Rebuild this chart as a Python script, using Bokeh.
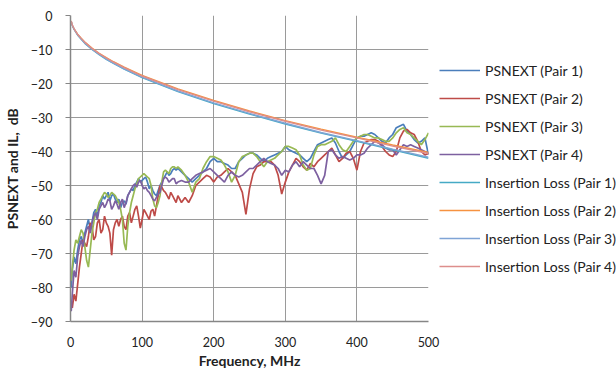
from bokeh.plotting import figure
from bokeh.models import Range1d, FixedTicker, Legend, LegendItem
from bokeh.embed import file_html
from bokeh.resources import INLINE

# ---------------- data ----------------
# PSNEXT sweep: 1 MHz, then every 2.5 MHz up to 150 MHz, then every 5 MHz
freq = [1] + [2.5 * i for i in range(1, 61)] + list(range(155, 501, 5))

psnext_pair1 = [
    -80,
    -75, -71, -73, -69, -66, -65, -67, -64, -62, -60,
    -63, -61, -58, -57, -59, -56, -55, -53, -54, -53,
    -52, -54.5, -53, -52.5, -54, -55, -54, -56.5, -55, -54.5,
    -55.5, -53, -52, -51, -51.5, -50, -49, -48, -49, -48.5,
    -48, -47.5, -49, -51, -50, -51.5, -52.5, -53, -51.5, -50,
    -49, -48, -47, -46, -47, -46.5, -45.5, -45, -45.5, -45,
    -46, -47, -48, -49, -48, -47, -46, -45, -43,
    -42, -43, -43, -43.5, -44, -45, -45, -43, -42, -41,
    -40.5, -40.5, -41, -42, -43, -42, -41.5, -41, -40.5, -40,
    -38.5, -39.5, -40, -40.5, -41, -42, -43, -42, -40, -38,
    -37.5, -37, -36.5, -36, -37.5, -40, -42, -41, -40, -38,
    -36, -35.5, -35.5, -35, -34.5, -35, -36, -37, -37.5, -36,
    -35, -33, -32.5, -32, -34, -35, -36.5, -37.5, -37, -36,
    -41,
]
psnext_pair2 = [
    -84,
    -86, -82, -84, -79, -74, -70, -66, -67, -68, -65,
    -61, -62, -66, -65, -61, -60, -64, -63, -59, -61,
    -62, -64, -70.5, -63, -61, -60, -62, -60, -59, -62,
    -63, -59, -58, -61, -59, -57, -56, -59, -62.5, -60,
    -57, -58, -59, -60, -57.5, -57, -59, -56, -53, -50,
    -50.5, -51.5, -52, -53, -54, -52, -53, -54, -55, -53,
    -55, -53.5, -55, -53, -50, -49, -48, -47, -47.5,
    -49, -47.5, -47, -46, -45, -46, -47, -49.5, -52, -58.5,
    -51, -46.5, -44.5, -44, -43, -43, -43, -44, -47, -52.5,
    -49, -46, -44, -42, -43, -44.5, -45.5, -43.5, -44.5, -43,
    -42, -41, -40, -39, -41, -43, -42, -40.5, -40, -42,
    -45.5, -40, -37.5, -37, -36.5, -36.5, -37, -38.5, -40, -41,
    -41.5, -40, -36, -34, -33.5, -34.5, -35, -37, -40, -41,
    -40.5,
]
psnext_pair3 = [
    -78,
    -74, -69, -66, -67, -65, -63, -64, -68, -72, -74,
    -69, -64, -61, -58, -57, -55, -54, -53, -52, -52.5,
    -53.5, -53, -52, -52.5, -53, -54, -55, -57, -60, -67,
    -69, -62, -58, -55, -53, -51, -49.5, -48, -47.5, -47,
    -46.5, -47, -47.5, -48, -50, -54, -56, -56.5, -55, -53,
    -49, -46, -45.5, -46, -46.5, -45, -44.5, -44.5, -45, -44.5,
    -45.5, -47, -49, -52, -49, -48, -45, -43, -41.5,
    -41.5, -42, -42.5, -44, -46, -49, -47, -43, -41.5, -41,
    -40.5, -40.5, -41.5, -43, -44.5, -43, -42.5, -42, -41, -40,
    -38.5, -38.5, -39, -39.5, -41, -44, -45.5, -45, -41, -38.5,
    -38, -38, -37.5, -37, -36, -38, -39.5, -40, -38.5, -37,
    -36, -35.5, -35, -35, -35.5, -36, -36, -36.5, -37, -37,
    -36, -34.5, -33.5, -33, -34.5, -35, -36, -37, -38, -36.5,
    -34.5,
]
psnext_pair4 = [
    -87,
    -82, -75, -77, -71, -68, -66, -68, -65, -63, -62,
    -64, -61, -59, -58, -60, -57, -56, -55, -56.5, -55.5,
    -54, -54.5, -57, -56, -54.5, -55.5, -57, -55, -54, -56.5,
    -55, -53, -52, -51, -50, -49.5, -50.5, -49, -48.5, -50,
    -51, -50.5, -51.5, -52, -53, -54, -54.5, -53.5, -52.5, -52,
    -50, -48, -47.5, -48, -49, -48.5, -48, -48, -49.5, -49,
    -48.5, -49, -49, -48, -47, -46.5, -46, -45.5, -45,
    -46, -47, -48, -49, -47, -46, -47, -47.5, -47, -46,
    -45, -45, -44, -43, -42, -43, -43.5, -44, -45, -47,
    -45.5, -46, -44, -43, -44.5, -43, -44, -45, -45, -47,
    -49.5, -47, -40, -39.5, -41, -42, -41.5, -42, -42.5, -42,
    -41, -41, -40.5, -39, -38, -37, -37.5, -38, -39, -39.5,
    -39.5, -41, -39.5, -38, -38.5, -38, -38.5, -39, -39.5, -40,
    -40.5,
]

il_freq = [1, 2, 3, 5, 10, 15, 20, 30, 40, 50, 60, 75, 100, 150, 200, 250, 300, 350, 400, 450, 500]
il_pair1 = [-1.8, -2.6, -3.2, -4.1, -5.8, -7.0, -8.2, -10.0, -11.5, -12.9, -14.1, -15.8, -18.3, -22.4, -25.9, -29.0, -31.9, -34.6, -37.0, -39.5, -42.0]
il_pair2 = [-1.6, -2.4, -3.0, -3.9, -5.5, -6.7, -7.8, -9.6, -11.1, -12.4, -13.6, -15.2, -17.6, -21.6, -25.0, -28.1, -30.9, -33.4, -35.8, -38.1, -40.3]
il_pair3 = [-1.7, -2.5, -3.1, -4.0, -5.7, -6.9, -8.1, -9.9, -11.4, -12.8, -14.0, -15.7, -18.1, -22.2, -25.7, -28.8, -31.7, -34.4, -36.8, -39.3, -41.7]
il_pair4 = [-1.7, -2.5, -3.0, -3.9, -5.6, -6.8, -7.9, -9.7, -11.2, -12.5, -13.7, -15.3, -17.8, -21.8, -25.2, -28.3, -31.1, -33.7, -36.0, -38.4, -40.6]

x_ticks = [0, 100, 200, 300, 400, 500]
y_ticks = [-90, -80, -70, -60, -50, -40, -30, -20, -10, 0]

series = [
    ("PSNEXT (Pair 1)", freq, psnext_pair1, "#4A7EBB", 1.7),
    ("PSNEXT (Pair 2)", freq, psnext_pair2, "#BE4B48", 1.7),
    ("PSNEXT (Pair 3)", freq, psnext_pair3, "#98B954", 1.7),
    ("PSNEXT (Pair 4)", freq, psnext_pair4, "#7D60A0", 1.7),
    ("Insertion Loss (Pair 1)", il_freq, il_pair1, "#46AAC5", 1.4),
    ("Insertion Loss (Pair 2)", il_freq, il_pair2, "#F69240", 1.4),
    ("Insertion Loss (Pair 3)", il_freq, il_pair3, "#7FA4D6", 1.4),
    ("Insertion Loss (Pair 4)", il_freq, il_pair4, "#DD8E8C", 1.4),
]

FONT = "Lato"

p = figure(width=614, height=371, frame_width=358, frame_height=306,
           output_backend="svg", toolbar_location=None,
           x_range=Range1d(0, 500), y_range=Range1d(-90, 0),
           min_border_left=68, min_border_right=0, min_border_top=15, min_border_bottom=50)
p.outline_line_color = None
p.background_fill_color = "white"
p.border_fill_color = "white"

items = []
for name, xs, ys, color, lw in series:
    r = p.line(xs, ys, line_color=color, line_width=lw)
    items.append(LegendItem(label=name, renderers=[r]))

p.xaxis.ticker = FixedTicker(ticks=x_ticks)
p.yaxis.ticker = FixedTicker(ticks=y_ticks)
p.xgrid.ticker = FixedTicker(ticks=x_ticks)
p.ygrid.ticker = FixedTicker(ticks=y_ticks)
for g in (p.xgrid, p.ygrid):
    g.grid_line_color = "#9A9A9A"
    g.grid_line_width = 1

for ax in (p.xaxis, p.yaxis):
    ax.axis_line_color = "#868686"
    ax.axis_line_width = 1.5
    ax.major_tick_line_color = "#868686"
    ax.minor_tick_line_color = None
    ax.major_label_text_font = FONT
    ax.major_label_text_font_size = "12.5px"
    ax.major_label_text_color = "#222222"
    ax.axis_label_text_font = FONT
    ax.axis_label_text_font_size = "14px"
    ax.axis_label_text_font_style = "bold"
    ax.axis_label_text_color = "#222222"

p.yaxis.major_tick_out = 5
p.yaxis.major_tick_in = 0
p.yaxis.major_label_standoff = 13
p.yaxis.axis_label = "PSNEXT and IL,\u00a0\u00a0dB"
p.yaxis.axis_label_standoff = 7

p.xaxis.major_tick_out = 0
p.xaxis.major_tick_in = 0
p.xaxis.major_label_standoff = 15
p.xaxis.axis_label = "Frequency, MHz"
p.xaxis.axis_label_standoff = 2

legend = Legend(items=items, location="center_left")
legend.border_line_color = None
legend.background_fill_alpha = 0
legend.padding = 0
legend.margin = 11
legend.spacing = 0
legend.label_height = 28
legend.glyph_height = 28
legend.glyph_width = 41
legend.label_standoff = 5
legend.label_text_font = FONT
legend.label_text_font_size = "14px"
legend.label_text_color = "#222222"
p.add_layout(legend, "right")

open("out.html", "w").write(file_html(p, INLINE))
